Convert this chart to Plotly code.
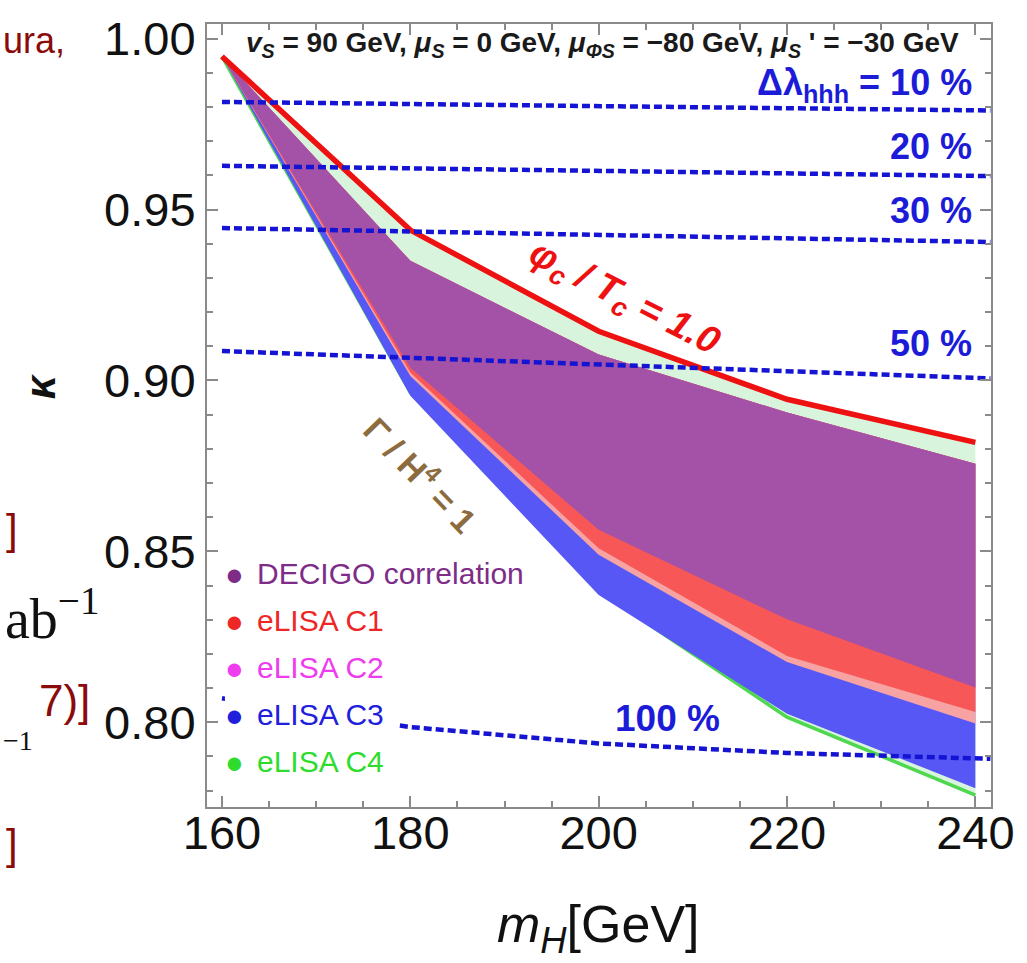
import plotly.graph_objects as go

# ---------------- data ----------------
m_h = [160, 180, 200, 220, 240]

phi_over_T = [0.9948, 0.9440, 0.9144, 0.8945, 0.8819]     # phi_c/T_c = 1.0 line
decigo_upper = [0.9948, 0.9350, 0.9076, 0.8906, 0.8756]
decigo_lower = [0.9948, 0.9037, 0.8563, 0.8301, 0.8102]
c1_lower = [0.9948, 0.9023, 0.8509, 0.8194, 0.8030]
c2_lower = [0.9948, 0.9013, 0.8490, 0.8176, 0.7996]
c3_lower = [0.9948, 0.8955, 0.8372, 0.8025, 0.7807]
c4_lower = [0.9948, 0.8965, 0.8385, 0.8015, 0.7787]

contour_x = [160, 241.6]
dl_10 = [0.9815, 0.9790]
dl_20 = [0.9628, 0.9598]
dl_30 = [0.9446, 0.9405]
dl_50 = [0.9086, 0.9006]
contour100_x = [160, 170, 180, 200, 220, 241.6]
dl_100 = [0.8070, 0.8025, 0.7986, 0.7938, 0.7910, 0.7893]

contour_labels = ["<b>Δλ<sub>hhh</sub> = 10 %</b>", "<b>20 %</b>", "<b>30 %</b>", "<b>50 %</b>"]
legend_names = ["DECIGO correlation", "eLISA C1", "eLISA C2", "eLISA C3", "eLISA C4"]
legend_colors = ["#7e2c88", "#ee2626", "#ee3cee", "#2020dc", "#2edc2e"]
header_text = ("<b><i>v<sub>S</sub></i> = 90 GeV, <i>μ<sub>S</sub></i> = 0 GeV, "
               "<i>μ<sub>ΦS</sub></i> = −80 GeV, <i>μ<sub>S</sub></i> ' = −30 GeV</b>")

x_ticks = [160, 180, 200, 220, 240]
y_ticks = [0.80, 0.85, 0.90, 0.95, 1.00]

X_RANGE = [158.41, 241.66]
Y_RANGE = [0.7752, 1.0043]

# ---------------- figure ----------------
W, H = 1027, 963
ML, MR, MT, MB = 207, 33, 21, 156
PW, PH = W - ML - MR, H - MT - MB


def px(xp):
    return (xp - ML) / PW


def py(yp):
    return 1 - (yp - MT) / PH


fig = go.Figure()


def band(lower, upper, color):
    xs = list(m_h) + list(reversed(m_h))
    ys = list(lower) + list(reversed(upper))
    fig.add_trace(go.Scatter(x=xs, y=ys, fill="toself", fillcolor=color,
                             mode="lines", line=dict(width=0, color=color),
                             hoverinfo="skip", showlegend=False))


# eLISA C4 (pale green) up to the phi/T line
band(c4_lower, phi_over_T, "#d9f4dc")
fig.add_trace(go.Scatter(x=m_h, y=c4_lower, mode="lines",
                         line=dict(color="#4fd84f", width=3.5),
                         hoverinfo="skip", showlegend=False))
# eLISA C3 (blue)
band(c3_lower, decigo_upper, "#5757f6")
# eLISA C2 (pink)
band(c2_lower, decigo_upper, "#f7a3a3")
# eLISA C1 (red)
band(c1_lower, decigo_upper, "#f85757")
# DECIGO (purple)
band(decigo_lower, decigo_upper, "#a452a7")

# phi_c / T_c = 1 line
fig.add_trace(go.Scatter(x=m_h, y=phi_over_T, mode="lines",
                         line=dict(color="#ee1111", width=5.5),
                         hoverinfo="skip", showlegend=False))

# dotted Delta lambda contours
dash_style = dict(color="#1414d2", width=4.5, dash="8px,4px")
for ys in (dl_10, dl_20, dl_30, dl_50):
    fig.add_trace(go.Scatter(x=contour_x, y=ys, mode="lines", line=dash_style,
                             hoverinfo="skip", showlegend=False))
fig.add_trace(go.Scatter(x=contour100_x, y=dl_100, mode="lines", line=dash_style,
                         hoverinfo="skip", showlegend=False))

# white legend background (hides the 100 % line behind the legend)
fig.add_shape(type="rect", xref="paper", yref="paper",
              x0=px(225), x1=px(398), y0=py(785), y1=py(552),
              fillcolor="white", line=dict(width=0), layer="above")

SANS = "Liberation Sans, Arial"
ann = []
# legend entries
for i, (name, col) in enumerate(zip(legend_names, legend_colors)):
    yc = 573 + i * 47
    ann.append(dict(x=px(235), y=py(yc + 1), xref="paper", yref="paper", text="●",
                    showarrow=False, font=dict(size=31, color=col, family=SANS),
                    xanchor="center", yanchor="middle"))
    ann.append(dict(x=px(255), y=py(yc), xref="paper", yref="paper", text=name,
                    showarrow=False, font=dict(size=30, color=col, family=SANS),
                    xanchor="left", yanchor="middle"))

# contour labels (right-aligned)
label_y = [82, 144, 208, 342]
for t, yc in zip(contour_labels, label_y):
    ann.append(dict(x=px(977), y=py(yc), xref="paper", yref="paper", text=t,
                    showarrow=False, font=dict(size=36, color="#1c1cd8", family=SANS),
                    xanchor="right", yanchor="middle"))
ann.append(dict(x=px(669), y=py(718), xref="paper", yref="paper", text="<b>100 %</b>",
                showarrow=False, font=dict(size=37, color="#1c1cd8", family=SANS),
                xanchor="center", yanchor="middle"))

# header with parameters
ann.append(dict(x=px(604), y=py(42), xref="paper", yref="paper", text=header_text,
                showarrow=False, font=dict(size=28, color="#1a1a1a", family=SANS),
                xanchor="center", yanchor="middle"))

# phi_c / T_c = 1.0 label
ann.append(dict(x=px(625), y=py(297), xref="paper", yref="paper",
                text="<b><i>φ<sub>c</sub> / T<sub>c</sub> = 1.0</i></b>",
                showarrow=False, textangle=27,
                font=dict(size=38, color="#ee1111", family=SANS),
                xanchor="center", yanchor="middle"))
# Gamma / H^4 = 1 label
ann.append(dict(x=px(423), y=py(472), xref="paper", yref="paper",
                text="<b>Γ / H<sup>4</sup> = 1</b>",
                showarrow=False, textangle=46,
                font=dict(size=34, color="#8c6c3e", family=SANS),
                xanchor="center", yanchor="middle"))

# axis titles
ann.append(dict(x=px(40), y=py(385), xref="paper", yref="paper", text="<b><i>κ</i></b>",
                showarrow=False, textangle=-90,
                font=dict(size=42, color="#111111", family=SANS),
                xanchor="center", yanchor="middle"))
ann.append(dict(x=px(600), y=py(928), xref="paper", yref="paper",
                text="<i>m<sub>H</sub></i>[GeV]",
                showarrow=False,
                font=dict(size=52, color="#111111", family=SANS),
                xanchor="center", yanchor="middle"))

# slide fragments at the left edge
frag_red = "#8b0a0a"
SERIF = "Liberation Serif, DejaVu Serif"
ann += [
    dict(x=px(0), y=py(38), text="ura,", font=dict(size=36, color=frag_red, family=SANS)),
    dict(x=px(3), y=py(528), text="]", font=dict(size=42, color=frag_red, family=SANS)),
    dict(x=px(2), y=py(614), text="ab<sup>−1</sup>", font=dict(size=56, color="#111111",
                                                             family=SERIF)),
    dict(x=px(36), y=py(700), text="7)]", font=dict(size=44, color=frag_red, family=SANS)),
    dict(x=px(0), y=py(740), text="−1", font=dict(size=28, color="#111111", family=SERIF)),
    dict(x=px(3), y=py(845), text="]", font=dict(size=42, color=frag_red, family=SANS)),
]
for a in ann[-6:]:
    a.update(xref="paper", yref="paper", showarrow=False, xanchor="left", yanchor="middle")

fig.update_layout(
    width=W, height=H,
    margin=dict(l=ML, r=MR, t=MT, b=MB),
    paper_bgcolor="white", plot_bgcolor="white",
    showlegend=False,
    annotations=ann,
    font=dict(family=SANS, color="#111111"),
)

axis_common = dict(showgrid=False, zeroline=False, showline=True, mirror="allticks",
                   linecolor="#8a8a8a", linewidth=2, ticks="inside",
                   tickcolor="#8a8a8a", tickwidth=1.5, ticklen=11,
                   tickfont=dict(size=47, color="#111111", family=SANS))

fig.update_xaxes(range=X_RANGE, tickvals=x_ticks, ticktext=[str(v) for v in x_ticks],
                 ticklabelstandoff=-16,
                 minor=dict(dtick=5, tick0=160, ticks="inside", ticklen=6,
                            tickcolor="#8a8a8a", tickwidth=1.5),
                 **axis_common)
fig.update_yaxes(range=Y_RANGE, tickvals=y_ticks, ticktext=[f"{v:.2f}" for v in y_ticks],
                 minor=dict(dtick=0.01, tick0=0.8, ticks="inside", ticklen=6,
                            tickcolor="#8a8a8a", tickwidth=1.5),
                 **axis_common)

fig.write_html("out.html")
